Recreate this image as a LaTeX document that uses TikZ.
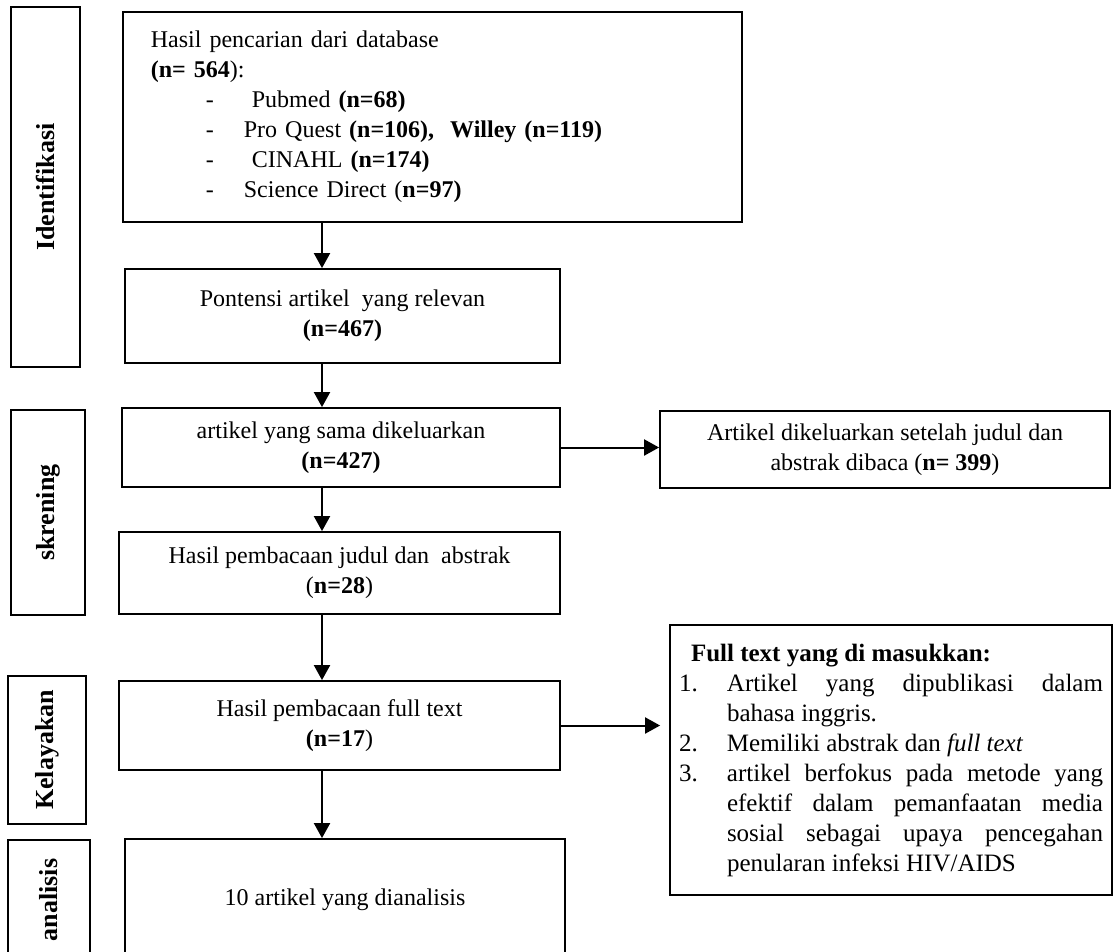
\documentclass[tikz,border=0pt]{standalone}
\usepackage{fontspec}
\setmainfont{Liberation Serif}
\usetikzlibrary{arrows.meta}
\newcommand{\dbitem}{\hspace*{27.5pt}\makebox[19pt][l]{-}}

\begin{document}
\begin{tikzpicture}[>={Triangle[length=7.5pt,width=8pt]}, % arrow tip
                    x=0.5pt, y=-0.5pt,                 % pixel grid, y down
                    font=\fontsize{12}{15}\selectfont,
                    box/.style={draw, line width=0.9pt, align=center, inner sep=2pt},
                    phase/.style={draw, line width=0.9pt, rotate=90, inner sep=0pt,
                                  font=\fontsize{13}{16}\selectfont\bfseries},
                    flow/.style={->, line width=1pt}
                    ]

\useasboundingbox (0,0) rectangle (1113,952);
\coordinate (spine) at (322,0);

% phases
\node[phase, minimum width=180pt, minimum height=34.5pt] (identif) at (45.5,187) {Identifikasi};
\node[phase, minimum width=102.5pt, minimum height=37pt] (skren) at (48,512.5) {skrening};
\node[phase, minimum width=74pt, minimum height=39pt] (kelay) at (47,750) {Kelayakan};
\node[phase, minimum width=60pt, minimum height=41pt] (analis) at (49,900) {analisis};

% Identifikasi
\node[box, anchor=north west, align=left, text width=281.5pt, inner xsep=14pt,
      minimum height=105pt] (search) at (122,11)
     {Hasil pencarian dari database\\
      \textbf{(n= 564}):\\
      \dbitem\ Pubmed \textbf{(n=68)}\\
      \dbitem Pro Quest \textbf{(n=106), \ Willey (n=119)}\\
      \dbitem\ CINAHL \textbf{(n=174)}\\
      \dbitem Science Direct (\textbf{n=97)}\par\vspace{3pt}};

\node[box, minimum width=217.5pt, minimum height=47pt] (potential) at (342.5,316)
     {Pontensi artikel \ yang relevan\\ \textbf{(n=467)}};

% skrening
\node[box, minimum width=219pt, minimum height=39.5pt] (dup) at (341,447.5)
     {artikel yang sama dikeluarkan\\ \textbf{(n=427)}};
\node[box, minimum width=225pt, minimum height=38.5pt] (removed) at (885,449.5)
     {Artikel dikeluarkan setelah judul dan\\ abstrak dibaca (\textbf{n= 399})};
\node[box, minimum width=220.5pt, minimum height=41pt] (screen) at (339.5,573)
     {Hasil pembacaan judul dan \ abstrak\\ (\textbf{n=28})};

% Kelayakan
\node[box, minimum width=220.5pt, minimum height=44.5pt] (fulltext) at (339.5,725.5)
     {Hasil pembacaan full text\\ \textbf{(n=17})};
\node[box, align=justify, text width=212pt, inner xsep=4.5pt, minimum height=135pt,
      font=\fontsize{12.5}{15}\selectfont] (incl) at (891,760)
     {\hspace*{6pt}\textbf{Full text yang di masukkan:}\par
      \noindent\hangindent=24pt\hangafter=1\makebox[24pt][l]{1.}Artikel yang dipublikasi dalam\linebreak
      bahasa inggris.\par
      \noindent\hangindent=24pt\hangafter=1\makebox[24pt][l]{2.}Memiliki abstrak dan \textit{full text}\par
      \noindent\hangindent=24pt\hangafter=1\makebox[24pt][l]{3.}artikel berfokus pada metode yang\linebreak
      efektif dalam pemanfaatan media\linebreak
      sosial sebagai upaya pencegahan\linebreak
      penularan infeksi HIV/AIDS\par};

% analisis
\node[box, minimum width=220pt, minimum height=61pt] (final) at (345,900)
     {10 artikel yang dianalisis};

% arrows
\draw[flow] (search.south -| spine) -- (potential.north -| spine);
\draw[flow] (potential.south -| spine) -- (dup.north -| spine);
\draw[flow] (dup.south -| spine) -- (screen.north -| spine);
\draw[flow] (screen.south -| spine) -- (fulltext.north -| spine);
\draw[flow] (fulltext.south -| spine) -- (final.north -| spine);
\draw[flow] (dup.east) -- (dup.east -| removed.west);
\draw[flow, shorten >=4.5pt] (fulltext.east) -- (fulltext.east -| incl.west);

\end{tikzpicture}
\end{document}
